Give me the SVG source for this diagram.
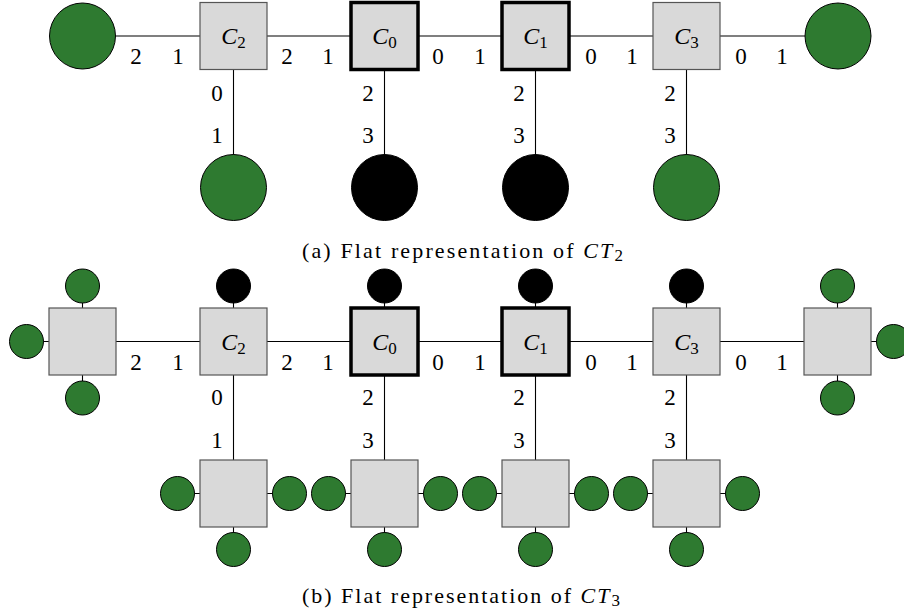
<svg xmlns="http://www.w3.org/2000/svg" width="904" height="613" viewBox="0 0 904 613">
<style>
.sq{fill:#d9d9d9;stroke:#555;stroke-width:1.2}
.sqk{fill:#d9d9d9;stroke:#000;stroke-width:3.5}
.g{fill:#2e7a30;stroke:#000;stroke-width:1}
.b{fill:#000;stroke:#000;stroke-width:1}
.ln{stroke:#000;stroke-width:1.1;fill:none}
text{font-family:'Liberation Serif','DejaVu Serif',serif;fill:#000}
.t{font-size:22px}
.lbl{font-size:23px;text-anchor:middle}
.c{font-size:24px;text-anchor:middle}
.i{font-style:italic}
.sub{font-size:17px}
</style>
<rect width="904" height="613" fill="#fff"/>
<g id="connectors" class="ln">
<line x1="116" y1="36" x2="805" y2="36"/>
<line x1="233.5" y1="69" x2="233.5" y2="155"/>
<line x1="384.5" y1="69" x2="384.5" y2="155"/>
<line x1="535.5" y1="69" x2="535.5" y2="155"/>
<line x1="686.5" y1="69" x2="686.5" y2="155"/>
<line x1="82.5" y1="341.5" x2="837.5" y2="341.5"/>
<line x1="233.5" y1="286" x2="233.5" y2="494"/>
<line x1="384.5" y1="286" x2="384.5" y2="494"/>
<line x1="535.5" y1="286" x2="535.5" y2="494"/>
<line x1="686.5" y1="286" x2="686.5" y2="494"/>
<line x1="82.5" y1="286" x2="82.5" y2="398"/>
<line x1="26.5" y1="341.5" x2="82.5" y2="341.5"/>
<line x1="837.5" y1="286" x2="837.5" y2="398"/>
<line x1="837.5" y1="341.5" x2="893.5" y2="341.5"/>
<line x1="177.5" y1="493.5" x2="289.5" y2="493.5"/>
<line x1="233.5" y1="493.5" x2="233.5" y2="549.5"/>
<line x1="328.5" y1="493.5" x2="440.5" y2="493.5"/>
<line x1="384.5" y1="493.5" x2="384.5" y2="549.5"/>
<line x1="479.5" y1="493.5" x2="591.5" y2="493.5"/>
<line x1="535.5" y1="493.5" x2="535.5" y2="549.5"/>
<line x1="630.5" y1="493.5" x2="742.5" y2="493.5"/>
<line x1="686.5" y1="493.5" x2="686.5" y2="549.5"/>
</g>
<g id="port-labels" class="lbl">
<text class="lbl" x="136" y="64">2</text><text class="lbl" x="178" y="64">1</text>
<text class="lbl" x="287" y="64">2</text><text class="lbl" x="328" y="64">1</text>
<text class="lbl" x="438" y="64">0</text><text class="lbl" x="480" y="64">1</text>
<text class="lbl" x="591" y="64">0</text><text class="lbl" x="632" y="64">1</text>
<text class="lbl" x="741" y="64">0</text><text class="lbl" x="782" y="64">1</text>
<text class="lbl" x="217" y="101">0</text><text class="lbl" x="217" y="143">1</text>
<text class="lbl" x="368" y="101">2</text><text class="lbl" x="368" y="143">3</text>
<text class="lbl" x="519" y="101">2</text><text class="lbl" x="519" y="143">3</text>
<text class="lbl" x="670" y="101">2</text><text class="lbl" x="670" y="143">3</text>
<text class="lbl" x="136" y="370">2</text><text class="lbl" x="178" y="370">1</text>
<text class="lbl" x="287" y="370">2</text><text class="lbl" x="328" y="370">1</text>
<text class="lbl" x="438" y="370">0</text><text class="lbl" x="480" y="370">1</text>
<text class="lbl" x="591" y="370">0</text><text class="lbl" x="632" y="370">1</text>
<text class="lbl" x="741" y="370">0</text><text class="lbl" x="782" y="370">1</text>
<text class="lbl" x="217" y="405">0</text><text class="lbl" x="217" y="448">1</text>
<text class="lbl" x="368" y="405">2</text><text class="lbl" x="368" y="448">3</text>
<text class="lbl" x="519" y="405">2</text><text class="lbl" x="519" y="448">3</text>
<text class="lbl" x="670" y="405">2</text><text class="lbl" x="670" y="448">3</text>
</g>
<g id="a-leaf-left"><circle class="g" cx="82.5" cy="36" r="33"/></g>
<g id="a-C2"><rect class="sq" x="200" y="2.5" width="67" height="67"/><text class="c" x="233.5" y="44"><tspan class="i">C</tspan><tspan class="sub" dy="4">2</tspan></text></g>
<g id="a-C0"><rect class="sqk" x="351" y="2.5" width="67" height="67"/><text class="c" x="384.5" y="44"><tspan class="i">C</tspan><tspan class="sub" dy="4">0</tspan></text></g>
<g id="a-C1"><rect class="sqk" x="502" y="2.5" width="67" height="67"/><text class="c" x="535.5" y="44"><tspan class="i">C</tspan><tspan class="sub" dy="4">1</tspan></text></g>
<g id="a-C3"><rect class="sq" x="653" y="2.5" width="67" height="67"/><text class="c" x="686.5" y="44"><tspan class="i">C</tspan><tspan class="sub" dy="4">3</tspan></text></g>
<g id="a-leaf-right"><circle class="g" cx="838" cy="36" r="33"/></g>
<g id="a-leaf-C2"><circle class="g" cx="233.5" cy="187.5" r="33"/></g>
<g id="a-leaf-C0"><circle class="b" cx="384.5" cy="187.5" r="33"/></g>
<g id="a-leaf-C1"><circle class="b" cx="535.5" cy="187.5" r="33"/></g>
<g id="a-leaf-C3"><circle class="g" cx="686.5" cy="187.5" r="33"/></g>
<text id="caption-a" class="t" x="302" y="258" textLength="321" lengthAdjust="spacing">(a) Flat representation of <tspan class="i">CT</tspan><tspan class="sub" dy="3">2</tspan></text>
<g id="b-left"><rect class="sq" x="49" y="308" width="67" height="67"/><circle class="g" cx="82.5" cy="286" r="17"/><circle class="g" cx="26.5" cy="341.5" r="17"/><circle class="g" cx="82.5" cy="398" r="17"/></g>
<g id="b-C2"><rect class="sq" x="200" y="308" width="67" height="67"/><circle class="b" cx="233.5" cy="286" r="17"/><text class="c" x="233.5" y="349.5"><tspan class="i">C</tspan><tspan class="sub" dy="4">2</tspan></text></g>
<g id="b-C0"><rect class="sqk" x="351" y="308" width="67" height="67"/><circle class="b" cx="384.5" cy="286" r="17"/><text class="c" x="384.5" y="349.5"><tspan class="i">C</tspan><tspan class="sub" dy="4">0</tspan></text></g>
<g id="b-C1"><rect class="sqk" x="502" y="308" width="67" height="67"/><circle class="b" cx="535.5" cy="286" r="17"/><text class="c" x="535.5" y="349.5"><tspan class="i">C</tspan><tspan class="sub" dy="4">1</tspan></text></g>
<g id="b-C3"><rect class="sq" x="653" y="308" width="67" height="67"/><circle class="b" cx="686.5" cy="286" r="17"/><text class="c" x="686.5" y="349.5"><tspan class="i">C</tspan><tspan class="sub" dy="4">3</tspan></text></g>
<g id="b-right"><rect class="sq" x="804" y="308" width="67" height="67"/><circle class="g" cx="837.5" cy="286" r="17"/><circle class="g" cx="893.5" cy="341.5" r="17"/><circle class="g" cx="837.5" cy="398" r="17"/></g>
<g id="b-sub-C2"><rect class="sq" x="200" y="460" width="67" height="67"/><circle class="g" cx="177.5" cy="493.5" r="17"/><circle class="g" cx="289.5" cy="493.5" r="17"/><circle class="g" cx="233.5" cy="549.5" r="17"/></g>
<g id="b-sub-C0"><rect class="sq" x="351" y="460" width="67" height="67"/><circle class="g" cx="328.5" cy="493.5" r="17"/><circle class="g" cx="440.5" cy="493.5" r="17"/><circle class="g" cx="384.5" cy="549.5" r="17"/></g>
<g id="b-sub-C1"><rect class="sq" x="502" y="460" width="67" height="67"/><circle class="g" cx="479.5" cy="493.5" r="17"/><circle class="g" cx="591.5" cy="493.5" r="17"/><circle class="g" cx="535.5" cy="549.5" r="17"/></g>
<g id="b-sub-C3"><rect class="sq" x="653" y="460" width="67" height="67"/><circle class="g" cx="630.5" cy="493.5" r="17"/><circle class="g" cx="742.5" cy="493.5" r="17"/><circle class="g" cx="686.5" cy="549.5" r="17"/></g>
<text id="caption-b" class="t" x="302" y="603" textLength="318" lengthAdjust="spacing">(b) Flat representation of <tspan class="i">CT</tspan><tspan class="sub" dy="3">3</tspan></text>
</svg>
